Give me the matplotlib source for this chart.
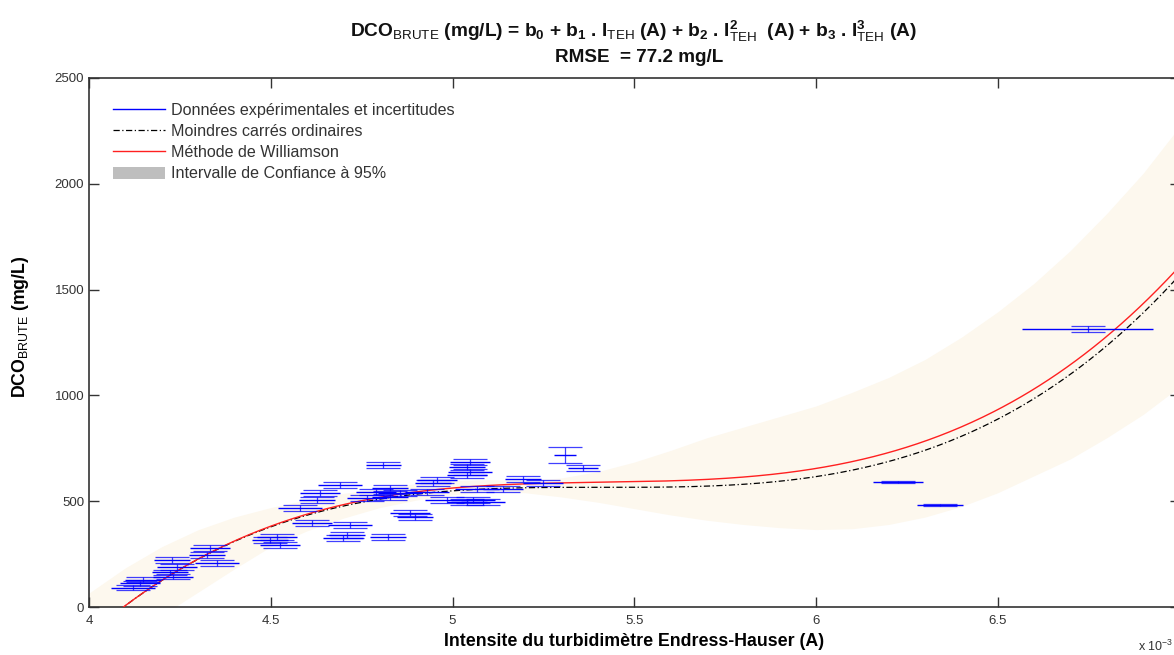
import numpy as np
import matplotlib
matplotlib.use("Agg")
import matplotlib.pyplot as plt
from matplotlib.lines import Line2D
from matplotlib.patches import Patch

plt.rcParams['font.family'] = ['Liberation Sans', 'DejaVu Sans']
plt.rcParams['mathtext.fontset'] = 'custom'
plt.rcParams['mathtext.rm'] = 'Liberation Sans'
plt.rcParams['mathtext.it'] = 'Liberation Sans:italic'
plt.rcParams['mathtext.bf'] = 'Liberation Sans:bold'

# ---- experimental data (x in 1e-3 A, DCO in mg/L) ----
data_x = [4.121, 4.140, 4.149, 4.231, 4.223, 4.242, 4.228, 4.352, 4.333, 4.324,
          4.517, 4.498, 4.525, 4.580, 4.613, 4.718, 4.710, 4.699, 4.823, 4.809,
          4.883, 4.897, 4.690, 4.636, 4.627, 4.790, 4.856, 4.828, 4.957, 4.946,
          4.930, 4.765, 4.828, 4.985, 5.040, 5.056, 5.048, 5.040, 5.048, 5.040,
          5.067, 5.139, 5.194, 5.249, 5.084, 5.310, 5.359, 6.226, 6.341, 6.748]
data_y = [90, 113, 128, 142, 165, 189, 222, 208, 279, 246,
          331, 317, 293, 468, 397, 388, 340, 326, 331, 671,
          444, 425, 576, 539, 506, 543, 539, 562, 600, 586,
          543, 515, 520, 506, 496, 506, 685, 662, 638, 624,
          558, 558, 605, 586, 496, 718, 657, 591, 482, 1314]
data_xerr = [0.060, 0.055, 0.050, 0.055, 0.050, 0.055, 0.050, 0.060, 0.055, 0.050,
             0.055, 0.050, 0.055, 0.060, 0.055, 0.060, 0.050, 0.055, 0.050, 0.048,
             0.055, 0.050, 0.060, 0.055, 0.050, 0.055, 0.060, 0.050, 0.055, 0.050,
             0.060, 0.055, 0.050, 0.060, 0.055, 0.060, 0.055, 0.050, 0.060, 0.055,
             0.060, 0.055, 0.050, 0.055, 0.060, 0.030, 0.040, 0.069, 0.063, 0.180]
data_yerr = [12, 12, 12, 12, 12, 12, 12, 14, 14, 14,
             14, 14, 14, 15, 15, 15, 15, 15, 15, 15,
             15, 15, 15, 15, 15, 15, 15, 15, 15, 15,
             15, 15, 15, 15, 15, 15, 16, 16, 16, 16,
             15, 15, 16, 16, 15, 38, 16, 4, 4, 16]

# ---- fitted cubic models (highest order first) ----
coef_williamson = [243.8950, -3958.9949, 21447.0530, -38185.0679]
coef_ols = [249.7113, -4052.5785, 21921.8204, -38959.5848]

# ---- 95 % confidence band ----
band_x = [4.0, 4.1, 4.2, 4.3, 4.4, 4.5, 4.6, 4.7, 4.8, 4.9,
          5.0, 5.1, 5.2, 5.3, 5.4, 5.5, 5.6, 5.7, 5.8, 5.9,
          6.0, 6.1, 6.2, 6.3, 6.4, 6.5, 6.6, 6.7, 6.8, 6.9, 7.0]
band_upper = [66, 185, 285, 365, 425, 470, 507, 537, 562, 583,
              598, 602, 598, 610, 640, 685, 740, 800, 850, 900,
              950, 1015, 1085, 1170, 1275, 1395, 1530, 1685, 1860, 2050, 2270]
band_lower = [-330, -160, -40, 70, 180, 285, 360, 420, 470, 505,
              530, 545, 540, 520, 495, 465, 435, 410, 390, 375,
              366, 370, 390, 425, 475, 540, 620, 700, 800, 910, 1040]

x_ticks = [4, 4.5, 5, 5.5, 6, 6.5]
x_ticklabels = ['4', '4.5', '5', '5.5', '6', '6.5']
y_ticks = [0, 500, 1000, 1500, 2000, 2500]

W, H = 1174, 655
fig = plt.figure(figsize=(W / 100, H / 100), dpi=100)
left, right, top, bottom = 89, 1179.5, 78, 607
ax = fig.add_axes([left / W, 1 - bottom / H, (right - left) / W, (bottom - top) / H])

band_col = '#fdf8ee'
ax.fill_between(band_x, band_lower, band_upper, color=band_col, lw=0, zorder=1)

xx = np.linspace(4.0, 7.0, 600)
dashdot = (0, (5, 2, 1, 2))
ax.plot(xx, np.polyval(coef_ols, xx), color='black', ls=dashdot, lw=0.9, zorder=3)
ax.plot(xx, np.polyval(coef_williamson, xx), color='#ff2020', lw=1.0, zorder=4)

blue = '#0000ff'
ax.errorbar(data_x, data_y, yerr=data_yerr, fmt='none', ecolor=blue, elinewidth=0.9,
            capsize=12, capthick=0.9, zorder=5, alpha=0.75)
ax.errorbar(data_x, data_y, xerr=data_xerr, fmt='none', ecolor=blue, elinewidth=1.0,
            capsize=0, zorder=6)

ax.set_xlim(4.0, 7.0)
ax.set_ylim(0, 2500)
ax.set_xticks(x_ticks)
ax.set_xticklabels(x_ticklabels)
ax.set_yticks(y_ticks)
ax.tick_params(direction='in', length=7, width=1, colors='#333333', labelcolor='#333333',
               labelsize=9.5, top=True, right=True)
ax.tick_params(axis='x', pad=6)
for s in ax.spines.values():
    s.set_color('#333333')
    s.set_linewidth(1.2)

ax.set_xlabel('Intensite du turbidimètre Endress-Hauser (A)', fontsize=12.8,
              fontweight='bold', labelpad=4)
fig.text(21 / W, 1 - 327 / H, r'DCO$_{\mathrm{BRUTE}}$ (mg/L)', rotation=90,
         ha='center', va='center', fontsize=12.8, fontweight='bold')

title1 = (r'DCO$_{\mathrm{BRUTE}}$ (mg/L) = b$_{\mathbf{0}}$ + b$_{\mathbf{1}}$ . '
          r'I$_{\mathrm{TEH}}$ (A) + b$_{\mathbf{2}}$ . I$^{\mathbf{2}}_{\mathrm{TEH}}$  (A) + '
          r'b$_{\mathbf{3}}$ . I$^{\mathbf{3}}_{\mathrm{TEH}}$ (A)')
fig.text(633 / W, 1 - 31 / H, title1, ha='center', va='center', fontsize=13.8,
         fontweight='bold', color='#111111')
fig.text(639 / W, 1 - 58 / H, 'RMSE  = 77.2 mg/L', ha='center', va='center',
         fontsize=13.6, fontweight='bold', color='#111111')

fig.text(1138 / W, 1 - 651 / H, r'x 10$^{-3}$', ha='left', va='baseline', fontsize=9,
         color='#333333')

handles = [Line2D([], [], color=blue, lw=1.0),
           Line2D([], [], color='black', ls=dashdot, lw=0.9),
           Line2D([], [], color='#ff2020', lw=1.0),
           Patch(facecolor='#bebebe', edgecolor='none')]
labels = ['Données expérimentales et incertitudes', 'Moindres carrés ordinaires',
          'Méthode de Williamson', 'Intervalle de Confiance à 95%']
leg = ax.legend(handles, labels, loc='upper left',
                bbox_to_anchor=((113 - left) / (right - left), 1 - (103 - top) / (bottom - top)),
                frameon=False, fontsize=11.6, handlelength=3.2, handletextpad=0.4,
                handleheight=0.8, labelspacing=0.38, borderaxespad=0, borderpad=0)
for t in leg.get_texts():
    t.set_color('#333333')

fig.savefig('out.png', dpi=100)
